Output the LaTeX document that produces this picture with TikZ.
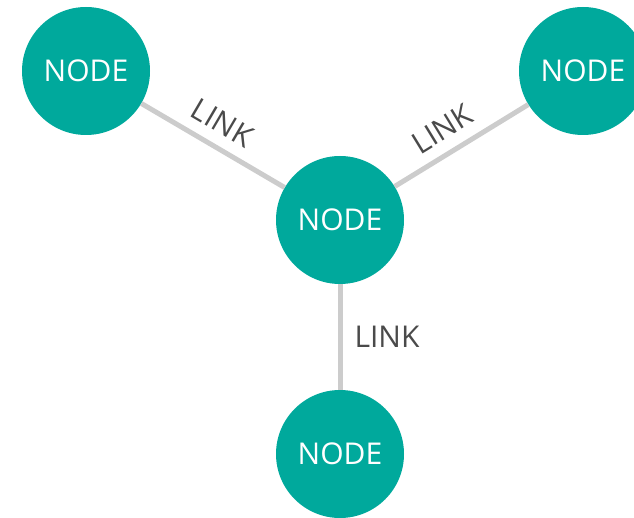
\documentclass[tikz,border=0pt]{standalone}
\usepackage{fontspec}
\setmainfont{Open Sans}
\definecolor{nodeteal}{HTML}{00A99C}
\definecolor{linkgray}{HTML}{CCCCCC}
\definecolor{labelgray}{HTML}{4A4A4A}
\begin{document}
\begin{tikzpicture}[x=1pt,y=1pt,
        netnode/.style={circle,fill=nodeteal,minimum size=128pt,inner sep=0pt,text=white,font=\fontsize{30}{30}\selectfont},
        netlink/.style={draw=linkgray,line width=5pt},
        linklabel/.style={text=labelgray,font=\fontsize{30}{30}\selectfont,inner sep=0pt}]
        \useasboundingbox (0,0) rectangle (634,517);
        %% Nodes
        \node[netnode] (topleft) at (86,446) {NODE};
        \node[netnode] (topright) at (583,446) {NODE};
        \node[netnode] (center) at (340,297) {NODE};
        \node[netnode] (bottom) at (340,63) {NODE};
        %% Links
        \draw[netlink] (topleft) -- node[linklabel,pos=0.48,sloped,above=11pt] {LINK} (center);
        \draw[netlink] (center) -- node[linklabel,pos=0.45,sloped,above=11pt] {LINK} (topright);
        \draw[netlink] (center) -- node[linklabel,midway,right=12pt] {LINK} (bottom);
    \end{tikzpicture}
\end{document}
